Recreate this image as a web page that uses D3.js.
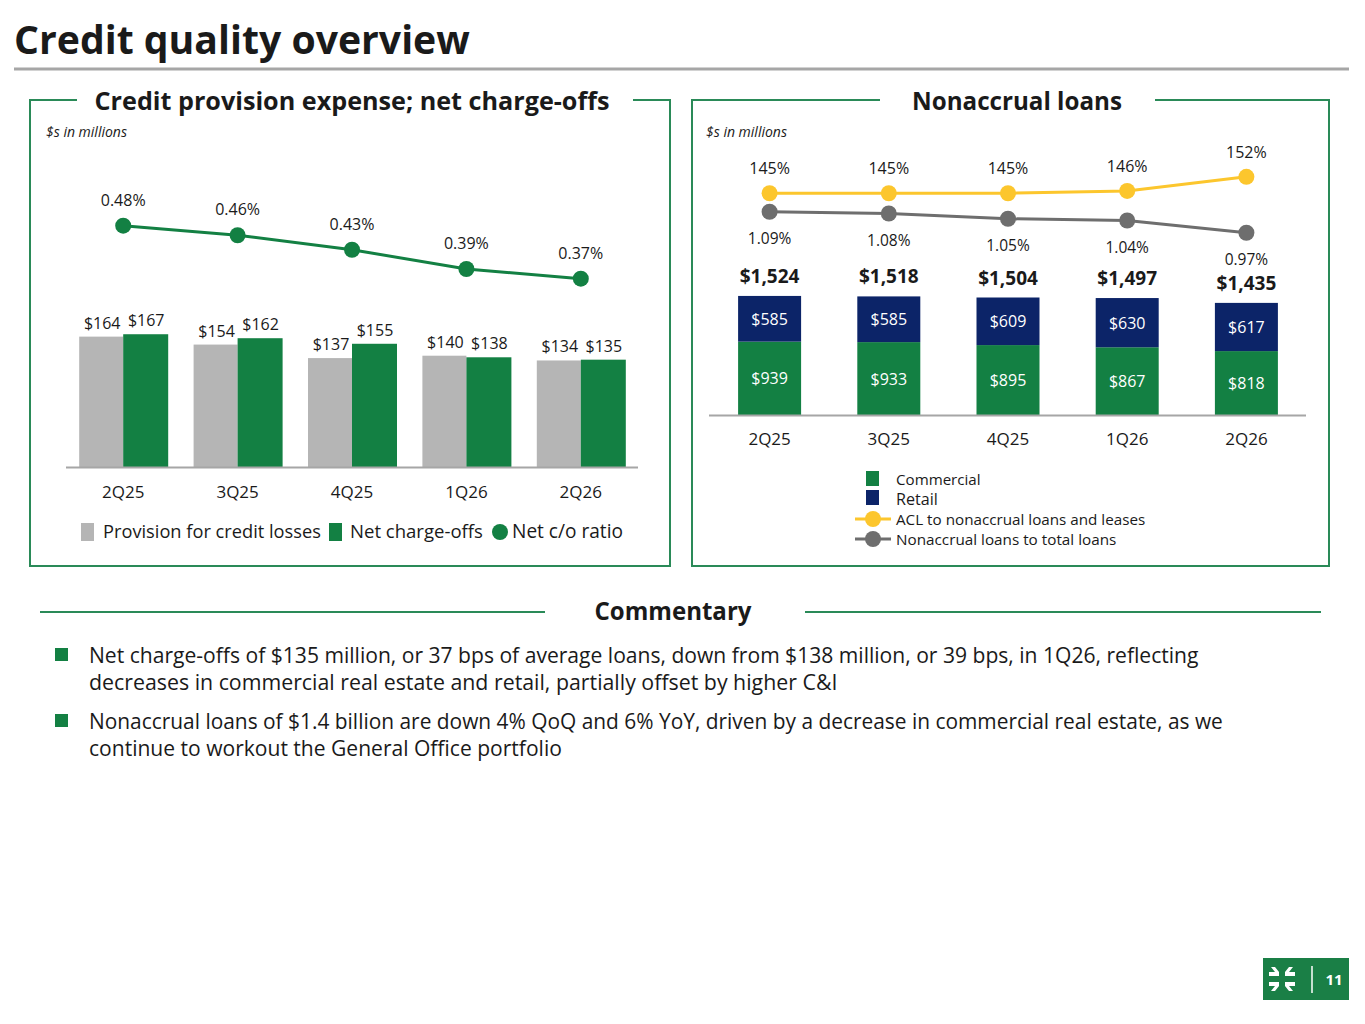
<!DOCTYPE html>
<html><head><meta charset="utf-8">
<script src="https://cdn.jsdelivr.net/npm/d3@7/dist/d3.min.js"></script>
<style>
body{margin:0;background:#fff;}
svg text{font-family:"Open Sans","Noto Sans",sans-serif;}
</style></head>
<body><svg id="c" width="1365" height="1024"></svg>
<script>
// ---- data ----
const quarters = ["2Q25","3Q25","4Q25","1Q26","2Q26"];
const provision = [164,154,137,140,134];
const netChargeOffs = [167,162,155,138,135];
const netCoRatio = [0.48,0.46,0.43,0.39,0.37];
const commercial = [939,933,895,867,818];
const retail = [585,585,609,630,617];
const totals = [1524,1518,1504,1497,1435];
const aclRatio = [145,145,145,146,152];
const nplRatio = [1.09,1.08,1.05,1.04,0.97];
const bullets = [
 ["Net charge-offs of $135 million, or 37 bps of average loans, down from $138 million, or 39 bps, in 1Q26, reflecting","decreases in commercial real estate and retail, partially offset by higher C&I"],
 ["Nonaccrual loans of $1.4 billion are down 4% QoQ and 6% YoY, driven by a decrease in commercial real estate, as we","continue to workout the General Office portfolio"]
];

const GREEN="#138043", GRAY="#b5b5b5", NAVY="#0c2468", YELLOW="#fcc62d", DGRAY="#6e6e6e", BOX="#2a8a58", TXT="#1a1a1a";
const svg=d3.select("#c");

// fit text to a target width by adjusting font-size
function fit(sel,w,k){
  const n=sel.node(); const cur=n.getComputedTextLength(); const fs=+sel.attr("font-size");
  sel.attr("font-size",(fs*w/cur*(k||1)).toFixed(2));
  return sel;
}

// title
fit(svg.append("text").attr("x",14).attr("y",54).attr("font-size",38).attr("font-weight","bold").attr("fill",TXT).text("Credit quality overview"),456);
svg.append("line").attr("x1",14).attr("x2",1349).attr("y1",69).attr("y2",69).attr("stroke","#a6a6a6").attr("stroke-width",3);

function panel(x0,x1,y0,y1,gap0,gap1,title,tcx,tw){
  svg.append("path").attr("d",`M${gap0},${y0}H${x0}V${y1}H${x1}V${y0}H${gap1}`).attr("fill","none").attr("stroke",BOX).attr("stroke-width",2);
  fit(svg.append("text").attr("x",tcx).attr("y",y0+10).attr("text-anchor","middle").attr("font-size",25).attr("font-weight","bold").attr("fill",TXT).text(title),tw);
}
panel(30,670,100,566,77,633,"Credit provision expense; net charge-offs",352,515);
panel(692,1329,100,566,880,1155,"Nonaccrual loans",1017,210);
svg.append("text").attr("x",46).attr("y",137).attr("font-size",14).attr("font-style","italic").attr("fill",TXT).text("$s in millions");
svg.append("text").attr("x",706).attr("y",137).attr("font-size",14).attr("font-style","italic").attr("fill",TXT).text("$s in millions");

// ---- left chart ----
const xL=d3.scaleBand().domain(quarters).range([66,638]);
const yL=d3.scaleLinear().domain([0,200]).range([467,308]);
const yR1=d3.scaleLinear().domain([0,0.5]).range([457,216]);
const bw=44;
const gL=svg.append("g");
quarters.forEach((q,i)=>{
  const cx=xL(q)+xL.bandwidth()/2;
  gL.append("rect").attr("x",cx-bw).attr("width",bw).attr("y",yL(provision[i])).attr("height",yL(0)-yL(provision[i])).attr("fill",GRAY);
  gL.append("rect").attr("x",cx).attr("width",bw+1).attr("y",yL(netChargeOffs[i])).attr("height",yL(0)-yL(netChargeOffs[i])).attr("fill",GREEN);
  gL.append("text").attr("x",cx-bw/2+1).attr("y",yL(provision[i])-8).attr("text-anchor","middle").attr("font-size",16).attr("fill",TXT).text("$"+provision[i]);
  gL.append("text").attr("x",cx+bw/2+1).attr("y",yL(netChargeOffs[i])-8).attr("text-anchor","middle").attr("font-size",16).attr("fill",TXT).text("$"+netChargeOffs[i]);
});
gL.append("line").attr("x1",66).attr("x2",638).attr("y1",467.5).attr("y2",467.5).attr("stroke","#a6a6a6").attr("stroke-width",2);
const axL=svg.append("g").attr("transform","translate(0,467)").call(d3.axisBottom(xL).tickSize(0).tickPadding(19));
axL.select(".domain").remove();
axL.selectAll("text").attr("font-size",17).attr("fill",TXT).attr("font-family","Open Sans");
const lineL=d3.line().x((d,i)=>xL(quarters[i])+xL.bandwidth()/2).y(d=>yR1(d));
gL.append("path").datum(netCoRatio).attr("d",lineL).attr("fill","none").attr("stroke",GREEN).attr("stroke-width",3);
netCoRatio.forEach((v,i)=>{
  const cx=xL(quarters[i])+xL.bandwidth()/2;
  gL.append("circle").attr("cx",cx).attr("cy",yR1(v)).attr("r",8).attr("fill",GREEN);
  gL.append("text").attr("x",cx).attr("y",yR1(v)-20).attr("text-anchor","middle").attr("font-size",16).attr("fill",TXT).text(v.toFixed(2)+"%");
});
// left legend
const lg=svg.append("g");
lg.append("rect").attr("x",81).attr("y",523).attr("width",13).attr("height",18).attr("fill",GRAY);
fit(lg.append("text").attr("x",103).attr("y",538).attr("font-size",17).attr("fill",TXT).text("Provision for credit losses"),218);
lg.append("rect").attr("x",329).attr("y",523).attr("width",13).attr("height",18).attr("fill",GREEN);
fit(lg.append("text").attr("x",350).attr("y",538).attr("font-size",17).attr("fill",TXT).text("Net charge-offs"),133);
lg.append("circle").attr("cx",500).attr("cy",532).attr("r",8).attr("fill",GREEN);
fit(lg.append("text").attr("x",512).attr("y",538).attr("font-size",17).attr("fill",TXT).text("Net c/o ratio"),111);

// ---- right chart ----
const xR=d3.scaleBand().domain(quarters).range([710,1306]);
const yR=d3.scaleLinear().domain([0,1600]).range([415,290]);
const yAcl=d3.scaleLinear().domain([140,160]).range([205,158]);
const yNpl=d3.scaleLinear().domain([0.9,1.1]).range([245,210]);
const bw2=63;
const gR=svg.append("g");
quarters.forEach((q,i)=>{
  const cx=xR(q)+xR.bandwidth()/2;
  const top=commercial[i]+retail[i];
  gR.append("rect").attr("x",cx-bw2/2).attr("width",bw2).attr("y",yR(commercial[i])).attr("height",yR(0)-yR(commercial[i])).attr("fill",GREEN);
  gR.append("rect").attr("x",cx-bw2/2).attr("width",bw2).attr("y",yR(top)).attr("height",yR(commercial[i])-yR(top)).attr("fill",NAVY);
  gR.append("text").attr("x",cx).attr("y",(yR(0)+yR(commercial[i]))/2+6).attr("text-anchor","middle").attr("font-size",16).attr("fill","#fff").text("$"+commercial[i]);
  gR.append("text").attr("x",cx).attr("y",(yR(top)+yR(commercial[i]))/2+6).attr("text-anchor","middle").attr("font-size",16).attr("fill","#fff").text("$"+retail[i]);
  gR.append("text").attr("x",cx).attr("y",yR(totals[i])-13).attr("text-anchor","middle").attr("font-size",19).attr("font-weight","bold").attr("fill",TXT).text("$"+d3.format(",")(totals[i]));
});
gR.append("line").attr("x1",709).attr("x2",1306).attr("y1",415.5).attr("y2",415.5).attr("stroke","#a6a6a6").attr("stroke-width",2);
const axR=svg.append("g").attr("transform","translate(0,415)").call(d3.axisBottom(xR).tickSize(0).tickPadding(18));
axR.select(".domain").remove();
axR.selectAll("text").attr("font-size",17).attr("fill",TXT).attr("font-family","Open Sans");
const cxR=i=>xR(quarters[i])+xR.bandwidth()/2;
gR.append("path").datum(aclRatio).attr("d",d3.line().x((d,i)=>cxR(i)).y(d=>yAcl(d))).attr("fill","none").attr("stroke",YELLOW).attr("stroke-width",3);
gR.append("path").datum(nplRatio).attr("d",d3.line().x((d,i)=>cxR(i)).y(d=>yNpl(d))).attr("fill","none").attr("stroke",DGRAY).attr("stroke-width",3);
aclRatio.forEach((v,i)=>{
  gR.append("circle").attr("cx",cxR(i)).attr("cy",yAcl(v)).attr("r",8).attr("fill",YELLOW);
  gR.append("text").attr("x",cxR(i)).attr("y",yAcl(v)-19).attr("text-anchor","middle").attr("font-size",16).attr("fill",TXT).text(v+"%");
});
nplRatio.forEach((v,i)=>{
  gR.append("circle").attr("cx",cxR(i)).attr("cy",yNpl(v)).attr("r",8).attr("fill",DGRAY);
  gR.append("text").attr("x",cxR(i)).attr("y",yNpl(v)+32).attr("text-anchor","middle").attr("font-size",15.5).attr("fill",TXT).text(v.toFixed(2)+"%");
});
// right legend
const rl=svg.append("g");
const K=0.93;
rl.append("rect").attr("x",866).attr("y",471).attr("width",13).attr("height",15).attr("fill",GREEN);
fit(rl.append("text").attr("x",896).attr("y",485).attr("font-size",15).attr("fill",TXT).text("Commercial"),91,K);
rl.append("rect").attr("x",866).attr("y",490).attr("width",13).attr("height",15).attr("fill",NAVY);
fit(rl.append("text").attr("x",896).attr("y",505).attr("font-size",15).attr("fill",TXT).text("Retail"),45,K);
rl.append("line").attr("x1",855).attr("x2",891).attr("y1",519).attr("y2",519).attr("stroke",YELLOW).attr("stroke-width",3);
rl.append("circle").attr("cx",873).attr("cy",519).attr("r",8).attr("fill",YELLOW);
fit(rl.append("text").attr("x",896).attr("y",525).attr("font-size",15).attr("fill",TXT).text("ACL to nonaccrual loans and leases"),268,K);
rl.append("line").attr("x1",855).attr("x2",891).attr("y1",539).attr("y2",539).attr("stroke",DGRAY).attr("stroke-width",3);
rl.append("circle").attr("cx",873).attr("cy",539).attr("r",8).attr("fill",DGRAY);
fit(rl.append("text").attr("x",896).attr("y",545).attr("font-size",15).attr("fill",TXT).text("Nonaccrual loans to total loans"),237,K);

// commentary
svg.append("line").attr("x1",40).attr("x2",545).attr("y1",612).attr("y2",612).attr("stroke",BOX).attr("stroke-width",2);
svg.append("line").attr("x1",805).attr("x2",1321).attr("y1",612).attr("y2",612).attr("stroke",BOX).attr("stroke-width",2);
fit(svg.append("text").attr("x",673).attr("y",620).attr("text-anchor","middle").attr("font-size",24).attr("font-weight","bold").attr("fill",TXT).text("Commentary"),157);
const bY=[663,729];
const bW=[[1168,788],[1194,498]];
bullets.forEach((b,i)=>{
  svg.append("rect").attr("x",55).attr("y",bY[i]-15).attr("width",13).attr("height",13).attr("fill",GREEN);
  b.forEach((ln,j)=>fit(svg.append("text").attr("x",89).attr("y",bY[i]+j*27).attr("font-size",19).attr("fill",TXT).text(ln),bW[i][j],0.95));
});

// logo
const lo=svg.append("g");
lo.append("rect").attr("x",1263).attr("y",958).attr("width",86).attr("height",42).attr("fill","#1a7f46");
const s=lo.append("g").attr("transform","translate(1282,979)").attr("fill","#fff");
[[-1,-1],[1,-1],[-1,1],[1,1]].forEach(([a,b])=>{
  s.append("path").attr("d",`M${a*3},${b*3} L${a*13},${b*3} L${a*13},${b*7} L${a*7},${b*7} L${a*11},${b*12} L${a*7},${b*12} L${a*3},${b*7}Z`);
});
lo.append("line").attr("x1",1312).attr("x2",1312).attr("y1",966).attr("y2",993).attr("stroke","#fff").attr("stroke-width",1.5);
lo.append("text").attr("x",1334).attr("y",985).attr("text-anchor","middle").attr("font-size",15).attr("font-weight","bold").attr("fill","#fff").text("11");
</script></body></html>
